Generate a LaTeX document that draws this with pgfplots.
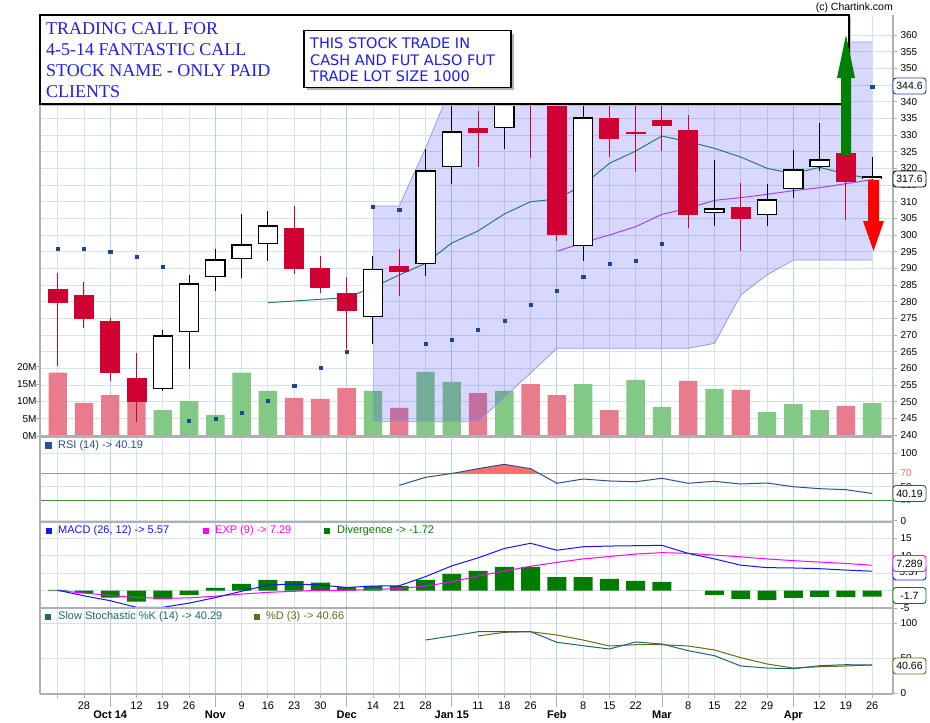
\documentclass[border=0pt]{standalone}
\usepackage{fontspec}
\setmainfont{Liberation Sans}
\newfontfamily\titlefont{Liberation Serif}
\newfontfamily\notefont{DejaVu Sans}
\usepackage{pgfplots}
\usepackage{pgfplotstable}
\pgfplotsset{compat=1.18}

\definecolor{candlered}{RGB}{208,0,50}
\definecolor{volred}{RGB}{232,124,140}
\definecolor{volgreen}{RGB}{130,201,133}
\definecolor{gridc}{RGB}{210,228,234}
\definecolor{gridm}{RGB}{184,208,220}
\definecolor{framec}{RGB}{176,176,176}
\definecolor{sarblue}{RGB}{34,68,140}
\definecolor{smac}{RGB}{45,122,115}
\definecolor{mac}{RGB}{160,70,250}
\definecolor{bandline}{RGB}{150,150,245}
\definecolor{bandfill}{RGB}{60,60,240}
\definecolor{rsiblue}{RGB}{45,80,140}
\definecolor{rsired}{RGB}{255,110,110}
\definecolor{rsigreen}{RGB}{60,150,60}
\definecolor{macdblue}{RGB}{20,20,255}
\definecolor{expmag}{RGB}{255,0,255}
\definecolor{divgreen}{RGB}{0,125,0}
\definecolor{stochk}{RGB}{25,105,110}
\definecolor{stochd}{RGB}{105,105,20}
\definecolor{notec}{RGB}{30,30,235}

% weekly candles, i = week index (0 = 21 Sep)
\pgfplotstableread{
i open high low close
0 283.8 288.5 260.8 279.7
1 282.0 285.9 272.2 274.9
2 274.2 275.0 256.3 258.7
3 257.1 264.6 244.0 250.0
9 302.1 308.7 288.4 289.9
10 290.1 293.7 282.6 284.2
11 282.6 287.4 265.8 277.3
13 290.7 295.8 281.8 289.0
16 332.1 337.2 320.5 330.7
18 352.0 356.0 323.2 342.0
19 343.0 348.0 298.3 300.1
21 335.1 341.0 323.5 328.9
22 331.0 342.0 319.0 330.4
23 334.5 340.5 325.3 332.8
24 331.5 336.0 302.0 306.1
26 308.4 315.6 295.3 304.9
30 324.6 325.5 304.6 315.9
}\redcandles
\pgfplotstableread{
i open high low close
4 253.7 271.4 253.3 269.9
5 270.8 287.9 259.9 285.5
6 287.3 295.8 283.3 292.7
7 292.7 306.3 287.2 297.2
8 297.2 307.2 292.3 302.9
12 275.3 293.7 267.4 289.8
14 291.2 325.9 287.8 319.4
15 320.3 341.5 315.4 331.1
17 332.0 352.0 325.9 346.0
20 296.6 342.0 292.3 335.3
25 306.5 322.5 302.8 308.0
27 305.9 315.3 302.8 310.7
28 313.7 325.5 311.2 319.7
29 320.4 333.6 319.2 322.7
31 316.7 323.4 314.0 317.6
}\whitecandles

\pgfplotsset{
  panel/.style={
    scale only axis, width=853pt, anchor=north west,
    xmin=-0.674, xmax=31.795,
    axis line style={draw=none},
    xtick={0,1,3,4,5,7,8,9,10,12,13,14,16,17,18,20,21,22,24,25,26,27,29,30,31},
    xticklabels={},
    extra x ticks={2,6,11,15,19,23,28},
    extra x tick labels={},
    extra x tick style={xmajorgrids=true, major grid style={gridm, line width=0.9pt}},
    xmajorgrids,
    grid style={gridc, line width=0.9pt},
    tick style={framec, line width=0.8pt},
    xtick style={draw=none},
    major tick length=4pt,
    tick align=outside,
    xtick pos=left, ytick pos=right, yticklabel pos=right,
    yticklabel style={font=\fontsize{10}{12}\selectfont, anchor=west},
    /pgf/number format/assume math mode=true,
  },
}

\begin{document}
\begin{tikzpicture}
\path[use as bounding box] (0,0) rectangle (930pt,-723pt);
\fill[white] (0,0) rectangle (930pt,-723pt);

% price grid and right scale
\begin{axis}[panel, at={(40pt,-15pt)}, height=422pt,
  ymin=239.4, ymax=366.0, ytick={240,245,...,360}, ymajorgrids]
\addplot[draw=none] coordinates {(0,300)};
\end{axis}

% volume (left scale)
\begin{axis}[panel, at={(40pt,-15pt)}, height=422pt,
  ymin=-0.29, ymax=121.5, xmajorgrids=false, extra x ticks={}, ymajorgrids=false,
  ytick={0,5,10,15,20}, yticklabels={0M,5M,10M,15M,20M},
  ytick pos=left, yticklabel pos=left, yticklabel style={anchor=east, xshift=4pt}]
\addplot[ybar, bar width=0.7, bar shift=0pt, fill=volred, draw=none] coordinates {
(0,18.3) (1,9.5) (2,11.8) (3,10.1) (9,11.0) (10,10.7) (11,13.8) (13,8.1)
(16,12.4) (18,15.0) (19,11.8) (21,7.5) (24,15.9) (26,13.3) (30,8.7)};
\addplot[ybar, bar width=0.7, bar shift=0pt, fill=volgreen, draw=none] coordinates {
(4,7.5) (5,10.1) (6,6.1) (7,18.3) (8,13.0) (12,13.0) (14,18.5) (15,15.6) (17,13.0)
(20,15.0) (22,16.2) (23,8.4) (25,13.6) (27,6.9) (28,9.2) (29,7.5) (31,9.5)};
\end{axis}

% price plots
\begin{axis}[panel, at={(40pt,-15pt)}, height=422pt,
  ymin=239.4, ymax=366.0, xmajorgrids=false, extra x ticks={}, ymajorgrids=false, ytick=\empty]
% Bollinger band: upper edge, then lower edge back
\addplot[fill=bandfill, fill opacity=0.2, draw=none] coordinates {
(12,308.7) (13,308.7) (14,326) (15,345) (16,350) (17,355) (18,359) (19,362) (20,363) (21,364)
(22,364) (23,363) (24,361) (25,359) (26,358) (27,358) (28,358) (29,358) (30,357.9) (31,357.9)
(31,292.5) (30,292.5) (29,292.5) (28,292.5) (27,288) (26,282) (25,267.5) (24,266) (23,266) (22,266)
(21,266) (20,266) (19,266) (18,258.6) (17,251.3) (16,244) (15,244) (14,244) (13,244) (12,244)} -- cycle;
\addplot[bandline, line width=0.8pt] coordinates {
(12,308.7) (13,308.7) (14,326) (15,345) (16,350) (17,355) (18,359) (19,362) (20,363) (21,364)
(22,364) (23,363) (24,361) (25,359) (26,358) (27,358) (28,358) (29,358) (30,357.9) (31,357.9)};
\addplot[bandline, line width=0.8pt] coordinates {
(12,244) (13,244) (14,244) (15,244) (16,244) (17,251.3) (18,258.6) (19,266) (20,266) (21,266)
(22,266) (23,266) (24,266) (25,267.5) (26,282) (27,288) (28,292.5) (29,292.5) (30,292.5) (31,292.5)};
% moving averages
\addplot[smac, line width=1pt] coordinates {
(8,279.7) (9,280.2) (10,280.7) (11,281.2) (12,284.3) (13,288.0) (14,291.5) (15,297.6) (16,301.2)
(17,306.3) (18,310.0) (19,310.8) (20,315.0) (21,321.5) (22,325.2) (23,329.7) (24,328.0) (25,326.0)
(26,323.4) (27,320.0) (28,318.4) (29,320.3) (30,318.3) (31,316.8)};
\addplot[mac, line width=1pt] coordinates {
(19,295.1) (20,297.7) (21,300.0) (22,302.5) (23,306.2) (24,308.0) (25,310.4) (26,311.2)
(27,312.2) (28,313.3) (29,314.2) (30,315.4) (31,316.6)};
% parabolic SAR
\addplot[only marks, mark=square*, mark size=1.6pt, sarblue] coordinates {
(0,296) (1,296) (2,295.1) (3,293.6) (4,290.6) (5,244.2) (6,245.0) (7,246.8) (8,250.4) (9,254.9)
(10,260.3) (11,265.1) (12,308.6) (13,307.7) (14,267.5) (15,268.7) (16,271.7) (17,274.4) (18,279.2)
(19,283.4) (20,287.6) (21,291.5) (22,292.4) (23,297.5) (24,362) (25,360) (26,358) (27,355)
(28,352) (29,349) (30,346.5) (31,344.6)};
% red candles: wick, then body
\addplot[candlered, line width=1pt, quiver={u=0, v=\thisrow{high}-\thisrow{low}}]
  table[x=i, y=low] {\redcandles};
\addplot[candlered, line width=20pt, quiver={u=0, v=\thisrow{open}-\thisrow{close}}]
  table[x=i, y=close] {\redcandles};
% white candles: wick, black body, white inside
\addplot[black, line width=1pt, quiver={u=0, v=\thisrow{high}-\thisrow{low}}]
  table[x=i, y=low] {\whitecandles};
\addplot[black, line width=20.5pt, quiver={u=0, v=\thisrow{close}-\thisrow{open}}]
  table[x=i, y=open] {\whitecandles};
\addplot[white, line width=18pt, quiver={u=0, v=\thisrow{close}-\thisrow{open}-0.76}]
  table[x=i, y expr=\thisrow{open}+0.38] {\whitecandles};
\end{axis}

% RSI
\begin{axis}[panel, at={(40pt,-437pt)}, height=85pt,
  ymin=-2.07, ymax=123.85, ytick={0,50,100}, ymajorgrids,
  extra y ticks={30,70}, extra y tick labels={\textcolor{rsigreen}{30},\textcolor{rsired}{70}},
  extra y tick style={ymajorgrids=false}]
\addplot[rsired, line width=0.9pt] coordinates {(-1,70) (33,70)};
\addplot[rsigreen, line width=0.9pt] coordinates {(-1,30) (33,30)};
\addplot[fill=rsired, draw=none] coordinates {(15.03,70) (16,76.9) (17,83.4) (18,76.9) (18.32,70)} -- cycle;
\addplot[rsiblue, line width=1pt] coordinates {
(13,52.3) (14,64.1) (15,69.8) (16,76.9) (17,83.4) (18,76.9) (19,55.3) (20,61.6) (21,58.7)
(22,57.6) (23,62.7) (24,55.3) (25,58.2) (26,54.2) (27,55.7) (28,50.2) (29,47.3) (30,45.8) (31,40.19)};
\end{axis}

% MACD
\begin{axis}[panel, at={(40pt,-522pt)}, height=86pt,
  ymin=-5.0, ymax=19.71, ytick={-5,0,5,10,15}, ymajorgrids]
\addplot[ybar, bar width=0.72, bar shift=0pt, fill=divgreen, draw=none] coordinates {
(0,0.2) (1,-0.8) (2,-2.0) (3,-3.2) (4,-2.5) (5,-1.2) (6,0.8) (7,1.9) (8,3.1) (9,2.7) (10,2.3)
(11,1.0) (12,1.35) (13,1.35) (14,3.1) (15,4.8) (16,5.7) (17,6.8) (18,6.8) (19,3.9) (20,3.9)
(21,3.4) (22,2.8) (23,2.5) (24,0.0) (25,-1.2) (26,-2.4) (27,-2.7) (28,-2.1) (29,-1.8) (30,-1.8) (31,-1.72)};
\addplot[expmag, line width=1pt] coordinates {
(0,0.0) (1,-0.7) (2,-1.4) (3,-2.0) (4,-2.2) (5,-2.1) (6,-1.6) (7,-1.0) (8,-0.5) (9,-0.2) (10,0.1)
(11,0.1) (12,0.3) (13,0.6) (14,1.3) (15,2.5) (16,4.2) (17,5.6) (18,7.0) (19,8.1) (20,9.1) (21,9.8)
(22,10.5) (23,10.9) (24,10.7) (25,10.2) (26,9.7) (27,9.1) (28,8.6) (29,8.2) (30,7.8) (31,7.29)};
\addplot[macdblue, line width=1pt] coordinates {
(0,0.1) (1,-1.5) (2,-2.9) (3,-4.8) (4,-4.8) (5,-3.6) (6,-2.0) (7,-0.2) (8,1.6) (9,1.9) (10,1.6)
(11,0.9) (12,1.3) (13,1.4) (14,4.0) (15,7.1) (16,9.4) (17,12.1) (18,13.6) (19,11.6) (20,12.6)
(21,12.8) (22,12.9) (23,13.0) (24,10.7) (25,9.1) (26,7.3) (27,6.6) (28,6.5) (29,6.3) (30,5.9) (31,5.57)};
\end{axis}

% slow stochastic + date axis
\begin{axis}[panel, at={(40pt,-608pt)}, height=86pt,
  ymin=-1.0, ymax=121.86, ytick={0,50,100}, ymajorgrids,
  xtick style={draw=framec},
  xticklabels={,28,12,19,26,9,16,23,30,14,21,28,11,18,26,8,15,22,8,15,22,29,12,19,26},
  xticklabel style={font=\fontsize{11}{13}\selectfont},
  extra x tick labels={Oct 14,Nov,Dec,Jan 15,Feb,Mar,Apr},
  extra x tick style={xmajorgrids=true, major grid style={gridm, line width=0.9pt},
    major tick length=13pt, xticklabel style={font=\bfseries\fontsize{11}{13}\selectfont}}]
\addplot[stochd, line width=1pt] coordinates {
(16,81.9) (17,87.1) (18,88) (19,83.3) (20,76.1) (21,67.6) (22,69.4) (23,69.4) (24,67.6)
(25,61.9) (26,50.9) (27,41.9) (28,36.1) (29,38) (30,39) (31,40.66)};
\addplot[stochk, line width=1pt] coordinates {
(14,76.1) (15,81.9) (16,88) (17,88) (18,88) (19,72.9) (20,68) (21,63.3) (22,73.3) (23,70.4)
(24,60.9) (25,53.7) (26,39) (27,36.1) (28,35.1) (29,39.4) (30,40.9) (31,40.29)};
\end{axis}

% panel frame
\draw[framec, line width=1.5pt] (40pt,-104pt) -- (40pt,-694pt);
\draw[framec, line width=1.5pt] (893pt,-15pt) -- (893pt,-694pt);
\draw[framec, line width=2.5pt] (40pt,-436.5pt) -- (893pt,-436.5pt);
\draw[framec, line width=2.5pt] (40pt,-522pt) -- (893pt,-522pt);
\draw[framec, line width=2.5pt] (40pt,-608pt) -- (893pt,-608pt);
\draw[framec, line width=1.5pt] (40pt,-694pt) -- (893pt,-694pt);

% legends
\fill[rsiblue] (45pt,-442pt) rectangle (52pt,-449pt);
\node[anchor=west, inner sep=0pt, text=rsiblue, font=\fontsize{11}{13}\selectfont] at (58pt,-445.5pt) {RSI (14) -> 40.19};
\fill[macdblue] (46pt,-528pt) rectangle (52pt,-534pt);
\node[anchor=west, inner sep=0pt, text=macdblue, font=\fontsize{11}{13}\selectfont] at (58pt,-531pt) {MACD (26, 12) -> 5.57};
\fill[expmag] (203pt,-528pt) rectangle (209pt,-534pt);
\node[anchor=west, inner sep=0pt, text=expmag, font=\fontsize{11}{13}\selectfont] at (215pt,-531pt) {EXP (9) -> 7.29};
\fill[divgreen] (324pt,-528pt) rectangle (330pt,-534pt);
\node[anchor=west, inner sep=0pt, text=divgreen, font=\fontsize{11}{13}\selectfont] at (337pt,-531pt) {Divergence -> -1.72};
\fill[stochk] (45pt,-614pt) rectangle (51pt,-620pt);
\node[anchor=west, inner sep=0pt, text=stochk, font=\fontsize{11}{13}\selectfont] at (58pt,-617pt) {Slow Stochastic \%K (14) -> 40.29};
\fill[stochd] (254pt,-614pt) rectangle (260pt,-620pt);
\node[anchor=west, inner sep=0pt, text=stochd, font=\fontsize{11}{13}\selectfont] at (266pt,-617pt) {\%D (3) -> 40.66};

% last-value tags
\tikzset{tag/.style={rounded corners=3pt, fill=white, inner sep=0pt, minimum width=33pt,
  minimum height=16pt, line width=0.9pt, font=\fontsize{10.5}{12}\selectfont}}
\node[tag, draw=sarblue] at (909.5pt,-86pt) {344.6};
\node[tag, draw=black] at (909.5pt,-179pt) {317.6};
\node[tag, draw=rsiblue] at (909.5pt,-493.5pt) {40.19};
\node[tag, draw=macdblue] at (909.5pt,-572pt) {5.57};
\node[tag, draw=expmag] at (909.5pt,-563.5pt) {7.289};
\node[tag, draw=divgreen] at (909.5pt,-595.5pt) {-1.7};
\node[tag, draw=stochd] at (909.5pt,-666pt) {40.66};

\node[anchor=east, inner sep=0pt, font=\fontsize{10.5}{12}\selectfont] at (893pt,-8pt) {(c) Chartink.com};

% title boxes
\fill[gray!55] (42pt,-17pt) rectangle (851pt,-106pt);
\draw[black, line width=1.5pt, fill=white] (40pt,-15pt) rectangle (849pt,-104pt);
\node[anchor=north west, inner sep=0pt, align=left, text=notec,
  font=\titlefont\fontsize{18}{21}\selectfont] at (46pt,-22pt)
  {TRADING CALL FOR\\4-5-14 FANTASTIC CALL\\STOCK NAME - ONLY PAID\\CLIENTS};
\fill[gray!60] (307pt,-33.7pt) rectangle (514pt,-90.3pt);
\draw[black, line width=1.3pt, fill=white] (304pt,-30.7pt) rectangle (511pt,-87.3pt);
\node[anchor=north west, inner sep=0pt, align=left, text=notec,
  font=\notefont\fontsize{14.5}{16.5}\selectfont] at (310pt,-38pt)
  {THIS STOCK TRADE IN\\CASH AND FUT ALSO FUT\\TRADE LOT SIZE 1000};

% trade arrows
\fill[green!50!black] (841pt,-155pt) -- (841pt,-78pt) -- (837pt,-78pt) -- (846pt,-35pt)
  -- (855pt,-78pt) -- (851pt,-78pt) -- (851pt,-155pt) -- cycle;
\fill[red] (868pt,-180pt) -- (868pt,-221pt) -- (863pt,-221pt) -- (873.5pt,-251pt)
  -- (884pt,-221pt) -- (879pt,-221pt) -- (879pt,-180pt) -- cycle;
\end{tikzpicture}
\end{document}
